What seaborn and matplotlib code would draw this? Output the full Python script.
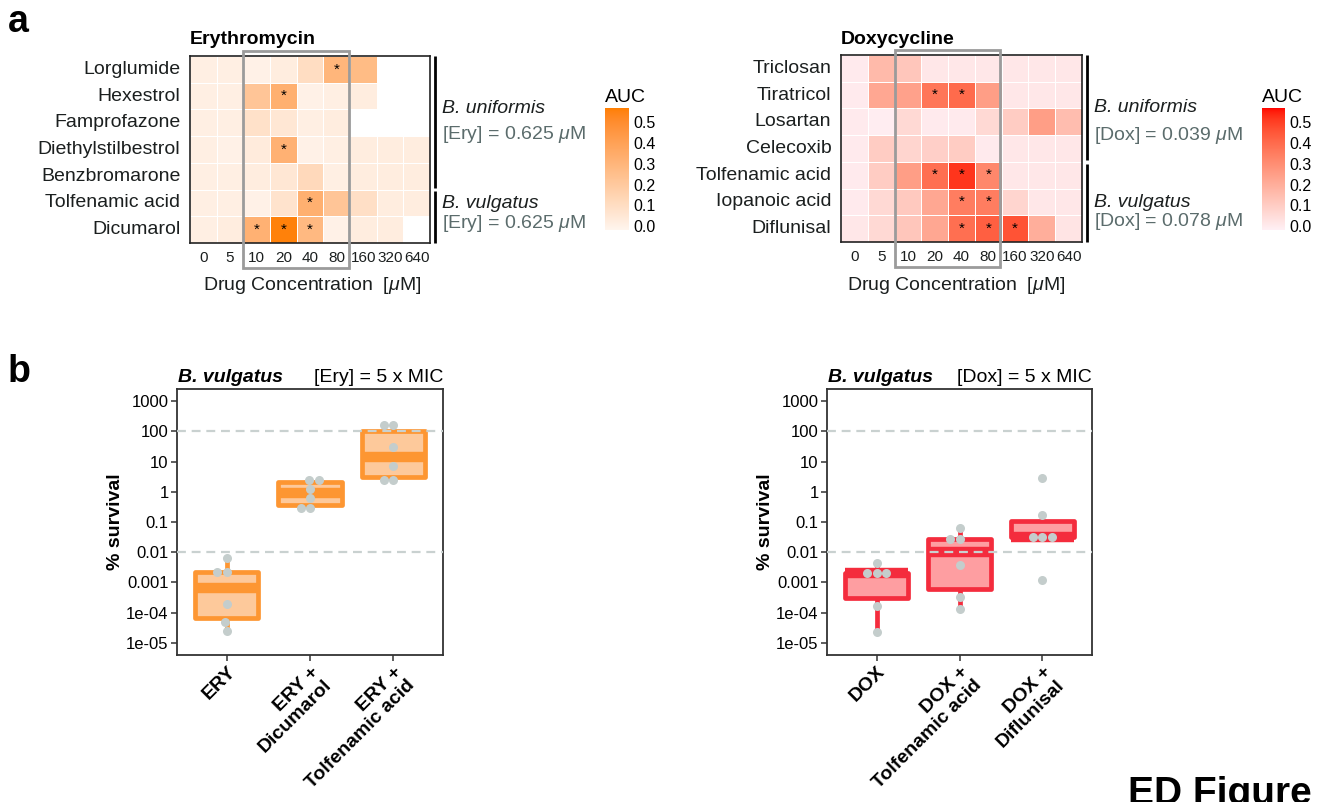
import numpy as np
import pandas as pd
import matplotlib
matplotlib.use("Agg")
import matplotlib.pyplot as plt
from matplotlib.colors import ListedColormap, to_rgb
from matplotlib.patches import Rectangle
from matplotlib.ticker import NullLocator
import seaborn as sns

nan = np.nan

# ---------------- data ----------------
conc_labels = ["0", "5", "10", "20", "40", "80", "160", "320", "640"]

ery_drugs = ["Lorglumide", "Hexestrol", "Famprofazone", "Diethylstilbestrol",
             "Benzbromarone", "Tolfenamic acid", "Dicumarol"]
ery_auc = [
    [0.01, 0.01, 0.00, 0.02, 0.10, 0.30, 0.27, nan, nan],
    [0.01, 0.01, 0.22, 0.33, 0.00, 0.01, 0.02, nan, nan],
    [0.01, 0.01, 0.08, 0.05, 0.01, 0.02, nan, nan, nan],
    [0.01, 0.00, 0.03, 0.32, 0.00, 0.01, 0.02, 0.02, 0.02],
    [0.01, 0.01, 0.02, 0.05, 0.12, 0.01, 0.02, 0.02, 0.02],
    [0.01, 0.01, 0.00, 0.07, 0.33, 0.22, 0.09, 0.02, 0.02],
    [0.01, 0.02, 0.32, 0.56, 0.28, 0.00, 0.02, 0.02, nan],
]
ery_sig = [
    ["", "", "", "", "", "*", "", "", ""],
    ["", "", "", "*", "", "", "", "", ""],
    ["", "", "", "", "", "", "", "", ""],
    ["", "", "", "*", "", "", "", "", ""],
    ["", "", "", "", "", "", "", "", ""],
    ["", "", "", "", "*", "", "", "", ""],
    ["", "", "*", "*", "*", "", "", "", ""],
]

dox_drugs = ["Triclosan", "Tiratricol", "Losartan", "Celecoxib",
             "Tolfenamic acid", "Iopanoic acid", "Diflunisal"]
dox_auc = [
    [0.00, 0.16, 0.12, 0.01, 0.01, 0.01, 0.01, 0.01, 0.01],
    [0.00, 0.22, 0.24, 0.37, 0.40, 0.25, 0.01, 0.01, 0.01],
    [0.00, -0.01, 0.06, 0.00, 0.00, 0.06, 0.10, 0.25, 0.15],
    [0.00, 0.10, 0.07, 0.09, 0.10, 0.00, 0.01, 0.01, 0.01],
    [0.00, 0.10, 0.25, 0.39, 0.52, 0.32, 0.01, 0.01, 0.01],
    [0.00, 0.06, 0.11, 0.22, 0.35, 0.35, 0.07, 0.01, 0.01],
    [0.01, 0.06, 0.12, 0.22, 0.39, 0.43, 0.46, 0.20, 0.02],
]
dox_sig = [
    ["", "", "", "", "", "", "", "", ""],
    ["", "", "", "*", "*", "", "", "", ""],
    ["", "", "", "", "", "", "", "", ""],
    ["", "", "", "", "", "", "", "", ""],
    ["", "", "", "*", "*", "*", "", "", ""],
    ["", "", "", "", "*", "*", "", "", ""],
    ["", "", "", "", "*", "*", "*", "", ""],
]

auc_ticks = [0.0, 0.1, 0.2, 0.3, 0.4, 0.5]
auc_tick_labels = ["0.0", "0.1", "0.2", "0.3", "0.4", "0.5"]

ery_groups = ["ERY", "ERY +\nDicumarol", "ERY +\nTolfenamic acid"]
surv_ery = [6.3e-3, 2.3e-3, 2.3e-3, 1.9e-4, 4.9e-5, 2.5e-5]
surv_ery_dicumarol = [2.5, 2.5, 1.26, 0.63, 0.30, 0.30]
surv_ery_tolfenamic = [160, 160, 30, 7.0, 2.4, 2.4]

dox_groups = ["DOX", "DOX +\nTolfenamic acid", "DOX +\nDiflunisal"]
surv_dox = [4.4e-3, 2.0e-3, 2.0e-3, 2.0e-3, 1.7e-4, 2.3e-5]
surv_dox_tolfenamic = [0.063, 0.027, 0.027, 3.7e-3, 3.2e-4, 1.3e-4]
surv_dox_diflunisal = [2.9, 0.17, 0.032, 0.032, 0.032, 1.2e-3]

surv_ticks = [1000, 100, 10, 1, 0.1, 0.01, 0.001, 1e-4, 1e-5]
surv_tick_labels = ["1000", "100", "10", "1", "0.1", "0.01", "0.001", "1e-04", "1e-05"]

# ---------------- style ----------------
sns.set_style("white")
plt.rcParams["font.family"] = ["Liberation Sans", "DejaVu Sans"]
plt.rcParams["mathtext.fontset"] = "custom"
plt.rcParams["mathtext.rm"] = "Liberation Sans"
plt.rcParams["mathtext.it"] = "Liberation Sans:italic"
plt.rcParams["mathtext.bf"] = "Liberation Sans:bold"

TXT = "#1b1f1f"
SUB = "#5b6c6c"
VMIN, VMAX = -0.02, 0.57

W, H = 1326, 802
fig = plt.figure(figsize=(W / 100, H / 100), dpi=100)
fig.patch.set_facecolor("white")


def add_ax(l, t, r, b):
    return fig.add_axes([l / W, 1 - b / H, (r - l) / W, (b - t) / H])


def ftext(x, y, s, **kw):
    kw.setdefault("color", TXT)
    return fig.text(x / W, 1 - y / H, s, **kw)


# Lab-space gradient (like ggplot's scale_fill_gradient)
_M = np.array([[0.4124, 0.3576, 0.1805],
               [0.2126, 0.7152, 0.0722],
               [0.0193, 0.1192, 0.9505]])
_WHITE = _M @ np.ones(3)


def _lin(c):
    c = np.asarray(c, float)
    return np.where(c <= 0.04045, c / 12.92, ((c + 0.055) / 1.055) ** 2.4)


def _gam(c):
    c = np.clip(c, 0, 1)
    return np.where(c <= 0.0031308, 12.92 * c, 1.055 * c ** (1 / 2.4) - 0.055)


def to_lab(rgb):
    xyz = _M @ _lin(rgb) / _WHITE
    d = 6 / 29
    f = np.where(xyz > d ** 3, np.cbrt(xyz), xyz / (3 * d * d) + 4 / 29)
    return np.array([116 * f[1] - 16, 500 * (f[0] - f[1]), 200 * (f[1] - f[2])])


def from_lab(lab):
    L, a, b = lab
    fy = (L + 16) / 116
    f = np.array([fy + a / 500, fy, fy - b / 200])
    d = 6 / 29
    xyz = np.where(f > d, f ** 3, 3 * d * d * (f - 4 / 29)) * _WHITE
    return _gam(np.linalg.solve(_M, xyz))


def lab_cmap(lo, hi, n=256):
    a, b = to_lab(to_rgb(lo)), to_lab(to_rgb(hi))
    cols = [from_lab(a + (b - a) * t) for t in np.linspace(0, 1, n)]
    return ListedColormap(np.clip(np.array(cols), 0, 1))


def heat(box, cbox, drugs, auc, sig, cmap, title, xlab_x, split, grp_texts):
    l, t, r, b = box
    ax = add_ax(*box)
    cax = add_ax(*cbox)
    df = pd.DataFrame(auc, index=drugs, columns=conc_labels)
    sns.heatmap(df, ax=ax, cbar_ax=cax, cmap=cmap, vmin=VMIN, vmax=VMAX,
                linewidths=0.7, linecolor="white",
                annot=np.array(sig), fmt="",
                annot_kws={"fontsize": 11, "color": "black"})
    for sp in ax.spines.values():
        sp.set_visible(True)
        sp.set_color("#222222")
        sp.set_linewidth(1.2)
    ax.set_xlabel("")
    ax.set_ylabel("")
    ax.set_xticklabels(conc_labels, rotation=0)
    ax.set_yticklabels(drugs, rotation=0)
    ax.tick_params(axis="x", length=0, labelsize=11, pad=6, labelcolor=TXT)
    ax.tick_params(axis="y", length=0, labelsize=14, pad=7, labelcolor=TXT)
    # highlight box around 10-80 uM
    ax.add_patch(Rectangle((2, -0.2), 3.95, 8.12, fill=False, edgecolor="#9b9b9b",
                           lw=2.0, clip_on=False, zorder=5))
    # species brackets
    n = len(drugs)
    ax.plot([9.17, 9.17], [0, split - 0.07], color="black", lw=2.0,
            clip_on=False, solid_capstyle="butt")
    ax.plot([9.17, 9.17], [split + 0.07, n], color="black", lw=2.0,
            clip_on=False, solid_capstyle="butt")
    for (yy, s, sty, col) in grp_texts:
        ax.text(9.45, yy, s, fontsize=14, style=sty, color=col, va="center",
                ha="left", clip_on=False)
    # colorbar
    cbar = ax.collections[0].colorbar
    cbar.set_ticks(auc_ticks)
    cbar.set_ticklabels(auc_tick_labels)
    cbar.outline.set_visible(False)
    cax.yaxis.set_minor_locator(NullLocator())
    cax.tick_params(which="both", left=True, right=True, labelleft=False,
                    labelright=True, direction="in", length=4, width=1,
                    color="white", labelsize=11.5, pad=3, labelcolor="black")
    ftext(cbox[0], 97, "AUC", fontsize=14, va="center", ha="left", color="black")
    ftext(l, 44, title, fontsize=14, fontweight="bold", va="baseline", ha="left",
          color="black")
    ftext(xlab_x, 285, r"Drug Concentration  [$\mu$M]", fontsize=14,
          ha="center", va="center")
    return ax


cmap_ery = lab_cmap("#FFF5EE", "#FF7F00")
cmap_dox = lab_cmap("#FFF0F5", "#FF0000")

heat((190, 56, 430, 243), (605, 108, 629, 230), ery_drugs, ery_auc, ery_sig,
     cmap_ery, "Erythromycin", 312, 5,
     [(1.95, "B. uniformis", "italic", TXT),
      (2.92, r"[Ery] = 0.625 $\mu$M", "normal", SUB),
      (5.52, "B. vulgatus", "italic", TXT),
      (6.28, r"[Ery] = 0.625 $\mu$M", "normal", SUB)])

heat((841, 55, 1082, 242), (1262, 108, 1285, 230), dox_drugs, dox_auc, dox_sig,
     cmap_dox, "Doxycycline", 956, 4,
     [(1.98, "B. uniformis", "italic", TXT),
      (3.0, r"[Dox] = 0.039 $\mu$M", "normal", SUB),
      (5.52, "B. vulgatus", "italic", TXT),
      (6.22, r"[Dox] = 0.078 $\mu$M", "normal", SUB)])


def box(bx, groups, series, edge, fill, tag):
    l, t, r, b = bx
    ax = add_ax(*bx)
    df = pd.DataFrame({
        "group": np.repeat(groups, [len(s) for s in series]),
        "survival": np.concatenate([np.asarray(s, float) for s in series]),
    })
    sns.boxplot(data=df, x="group", y="survival", order=groups, ax=ax,
                log_scale=True, width=0.76, color=fill, linecolor=edge,
                linewidth=3.4, saturation=1, showcaps=False, showfliers=False,
                whis=1.5, boxprops={"joinstyle": "round"},
                medianprops={"linewidth": 7.5, "solid_capstyle": "butt"})
    for yv in (100, 0.01):
        ax.axhline(yv, color="#c9d1d0", lw=1.6, ls=(0, (4, 2.6)), zorder=3)
    sns.swarmplot(data=df, x="group", y="survival", order=groups, ax=ax,
                  log_scale=True, color="#c4cdcc", size=6.5, zorder=4)
    ax.set_xlim(-0.6, 2.6)
    ax.set_ylim(10 ** -5.4, 10 ** 3.4)
    ax.set_yticks(surv_ticks)
    ax.set_yticklabels(surv_tick_labels)
    ax.yaxis.set_minor_locator(NullLocator())
    for sp in ax.spines.values():
        sp.set_visible(True)
        sp.set_color("#333333")
        sp.set_linewidth(1.3)
    ax.tick_params(axis="y", length=4, width=1.1, color="#333333", labelsize=12,
                   pad=2, labelcolor="black", left=True)
    ax.tick_params(axis="x", length=4, width=1.1, color="#333333", pad=2,
                   bottom=True)
    for lab in ax.get_xticklabels():
        lab.set_rotation(45)
        lab.set_ha("right")
        lab.set_va("top")
        lab.set_rotation_mode("anchor")
        lab.set_fontweight("bold")
        lab.set_fontsize(14)
        lab.set_multialignment("right")
        lab.set_linespacing(1.15)
        lab.set_color("black")
    ax.set_xlabel("")
    ax.set_ylabel("% survival", fontsize=14, fontweight="bold", color="black")
    ax.yaxis.set_label_coords(-0.2, 0.5)
    ftext(l + 1, 382, "B. vulgatus", fontsize=14, fontweight="bold",
          style="italic", va="baseline", ha="left", color="black")
    ftext(r, 382, tag, fontsize=14, va="baseline", ha="right", color="black")
    return ax


box((177, 389, 443, 655), ery_groups,
    [surv_ery, surv_ery_dicumarol, surv_ery_tolfenamic],
    "#fd9632", "#fdc99b", "[Ery] = 5 x MIC")
box((827, 389, 1092, 655), dox_groups,
    [surv_dox, surv_dox_tolfenamic, surv_dox_diflunisal],
    "#f42c3d", "#fe9ea1", "[Dox] = 5 x MIC")

ftext(8, 32, "a", fontsize=27, fontweight="bold", va="baseline", color="black")
ftext(8, 382, "b", fontsize=27, fontweight="bold", va="baseline", color="black")
ftext(1128, 776, "ED Figure", fontsize=28, fontweight="bold", va="top",
      color="black")

fig.savefig("out.png", dpi=100, facecolor="white")
